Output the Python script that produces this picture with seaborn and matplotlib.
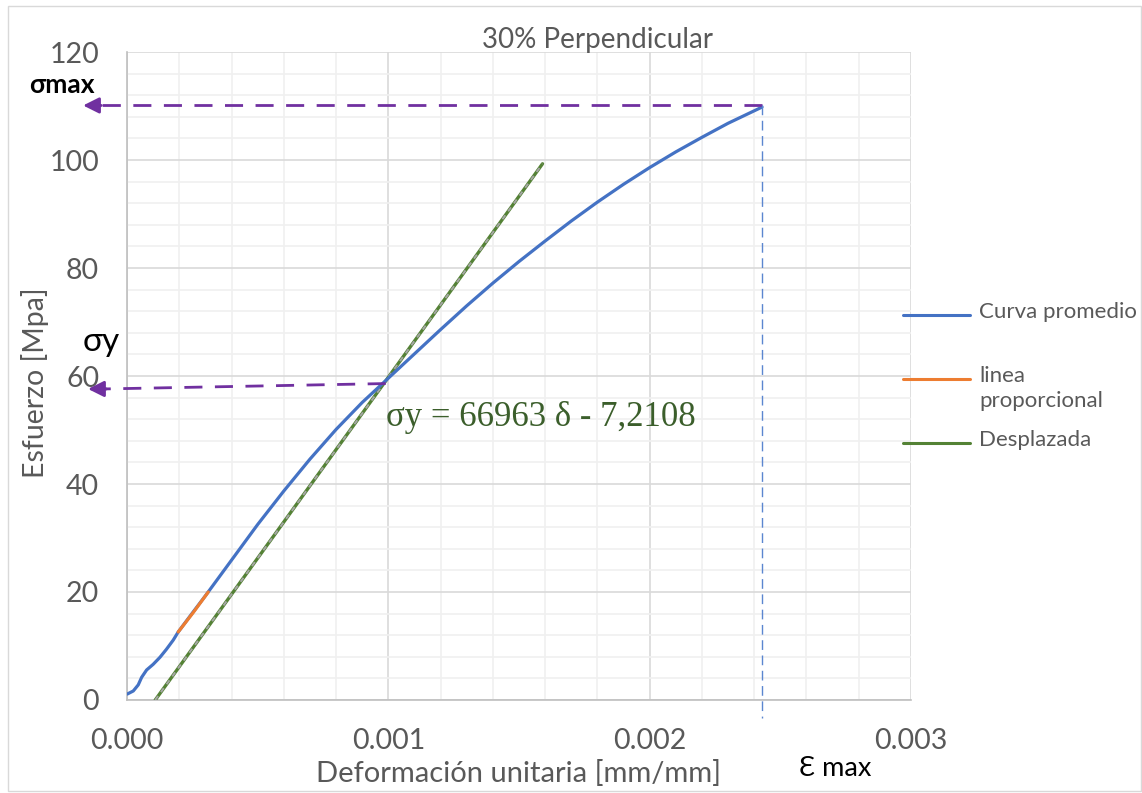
import matplotlib
matplotlib.use("Agg")
import matplotlib.pyplot as plt
from matplotlib.ticker import MultipleLocator, FixedLocator
from matplotlib.lines import Line2D
from matplotlib.patches import Rectangle
import seaborn as sns
import pandas as pd

# ---- data ----
curve_x = [0.000001, 0.000024, 0.000043, 0.000056, 0.000075, 0.0001, 0.000126, 0.000151,
           0.000177, 0.000196, 0.00025, 0.0003, 0.0004, 0.0005, 0.0006, 0.0007, 0.0008,
           0.0009, 0.001, 0.0011, 0.0012, 0.0013, 0.0014, 0.0015, 0.0016, 0.0017,
           0.0018, 0.0019, 0.002, 0.0021, 0.0022, 0.0023, 0.00243]
curve_y = [1.1, 1.67, 2.8, 4.2, 5.56, 6.6, 7.9, 9.4,
           11.1, 12.6, 16.1, 19.3, 25.9, 32.5, 38.7, 44.6, 50.1,
           55.1, 59.6, 64.1, 68.6, 73.0, 77.2, 81.2, 85.0, 88.7,
           92.2, 95.5, 98.6, 101.5, 104.2, 106.8, 109.8]
prop_x = [0.000196, 0.000255, 0.000311]
prop_y = [12.6, 16.3, 20.0]
shift_x = [0.000108, 0.00159]
shift_y = [0.0, 99.3]

sigma_max = 110.1
eps_max = 0.00243
sigma_y = 58.6
eps_y = 0.00099

x_ticks = [0.0, 0.001, 0.002, 0.003]
x_tick_labels = ["0.000", "0.001", "0.002", "0.003"]
y_ticks = [0, 20, 40, 60, 80, 100, 120]

title = "30% Perpendicular"
x_label = "Deformación unitaria [mm/mm]"
y_label = "Esfuerzo [Mpa]"
legend_labels = ["Curva promedio", "linea\nproporcional", "Desplazada"]
equation = "σy = 66963 δ - 7,2108"

# ---- style ----
sns.set_theme(style="white")
plt.rcParams["font.family"] = ["Lato", "DejaVu Sans"]

BLUE = "#4472C4"
ORANGE = "#ED7D31"
GREEN = "#548235"
PURPLE = "#7030A0"
GRAYTXT = "#595959"

W, H = 1142, 793
fig = plt.figure(figsize=(W / 100, H / 100), dpi=100)
ax = fig.add_axes([127 / W, 1 - 700 / H, 784 / W, 648 / H])

df_curve = pd.DataFrame({"x": curve_x, "y": curve_y})
df_prop = pd.DataFrame({"x": prop_x, "y": prop_y})
df_shift = pd.DataFrame({"x": shift_x, "y": shift_y})

sns.lineplot(data=df_curve, x="x", y="y", ax=ax, color=BLUE, lw=2.3,
             sort=False, estimator=None, zorder=4)
sns.lineplot(data=df_prop, x="x", y="y", ax=ax, color=ORANGE, lw=2.3,
             sort=False, estimator=None, zorder=5)
sns.lineplot(data=df_shift, x="x", y="y", ax=ax, color=GREEN, lw=2.4,
             sort=False, estimator=None, zorder=3)
ax.plot(shift_x, shift_y, color="#A5A5A5", lw=1.4, dashes=(2.5, 2.5), zorder=3.5)

ax.set_xlim(0, 0.003)
ax.set_ylim(0, 120)
ax.xaxis.set_major_locator(FixedLocator(x_ticks))
ax.set_xticklabels(x_tick_labels)
ax.yaxis.set_major_locator(FixedLocator(y_ticks))
ax.xaxis.set_minor_locator(MultipleLocator(0.0002))
ax.yaxis.set_minor_locator(MultipleLocator(4))
ax.grid(which="major", color="#D9D9D9", lw=1.2, zorder=0)
ax.grid(which="minor", color="#F0F0F0", lw=1.2, zorder=0)
ax.set_axisbelow(True)
for s in ["top", "right"]:
    ax.spines[s].set_visible(False)
for s in ["left", "bottom"]:
    ax.spines[s].set_color("#BFBFBF")
    ax.spines[s].set_linewidth(1.2)
ax.tick_params(which="major", direction="out", length=7, width=1.2, color="#BFBFBF",
               labelcolor=GRAYTXT, labelsize=20.5)
ax.tick_params(axis="x", which="major", pad=13)
ax.tick_params(axis="y", which="major", pad=13)
ax.tick_params(which="minor", length=0)

ax.set_xlabel(x_label, fontsize=21, color=GRAYTXT)
ax.xaxis.set_label_coords(0.5, -0.1127)
ax.xaxis.label.set_verticalalignment("center")
ax.set_ylabel(y_label, fontsize=20.5, color=GRAYTXT)
ax.yaxis.set_label_coords(-0.1173, 0.489)
ax.yaxis.label.set_verticalalignment("center")

fig.text(598 / W, 1 - 40 / H, title, ha="center", va="center", color=GRAYTXT, fontsize=20)

# purple arrows
for (x0, y0), (x1, y1) in [((eps_max, sigma_max), (-0.000168, sigma_max)),
                           ((eps_y, sigma_y), (-0.000149, 57.6))]:
    ax.plot([x0, x1 + 0.00006], [y0, y1], color=PURPLE, lw=2.0, dashes=(6.5, 4.5),
            clip_on=False, zorder=6)
    ax.annotate("", xy=(x1, y1), xytext=(x1 + 0.00007, y1),
                arrowprops=dict(arrowstyle="-|>", color=PURPLE, lw=2,
                                mutation_scale=24, shrinkA=0, shrinkB=0),
                annotation_clip=False, zorder=6)

# vertical dashed line at eps max
ax.plot([eps_max, eps_max], [sigma_max, -3.3], color="#5B86D0", lw=1.0,
        dashes=(7, 4), clip_on=False, zorder=6)

ax.text(-0.000249, 113.9, "σmax", fontsize=19, fontweight="bold", color="black",
        ha="center", va="center", clip_on=False)
ax.text(-0.0001, 66.3, "σy", fontsize=24, color="black", ha="center", va="center",
        clip_on=False)
ax.text(0.00271, -12.6, "Ɛ max", fontsize=19.5, color="black", ha="center", va="center",
        clip_on=False, family=["Lato", "DejaVu Sans"])
ax.text(0.001585, 52.3, equation, fontsize=25, color="#3B5E2B", ha="center",
        va="center", family=["Liberation Serif", "DejaVu Serif"])

# legend
leg_colors = [BLUE, ORANGE, GREEN]
leg_y = [315, 379, 443]
for c, yy, lab in zip(leg_colors, leg_y, legend_labels):
    fig.add_artist(Line2D([903 / W, 970 / W], [1 - yy / H, 1 - yy / H], color=c, lw=2.2))
    fig.text(979 / W, 1 - (yy - 13) / H, lab, ha="left", va="top", color=GRAYTXT,
             fontsize=16, linespacing=1.3)

fig.add_artist(Rectangle((8 / W, 1 - 791 / H), 1133 / W, 785 / H, fill=False,
                         edgecolor="#D9D9D9", lw=1.0, transform=fig.transFigure))

fig.savefig("out.png", dpi=100)
